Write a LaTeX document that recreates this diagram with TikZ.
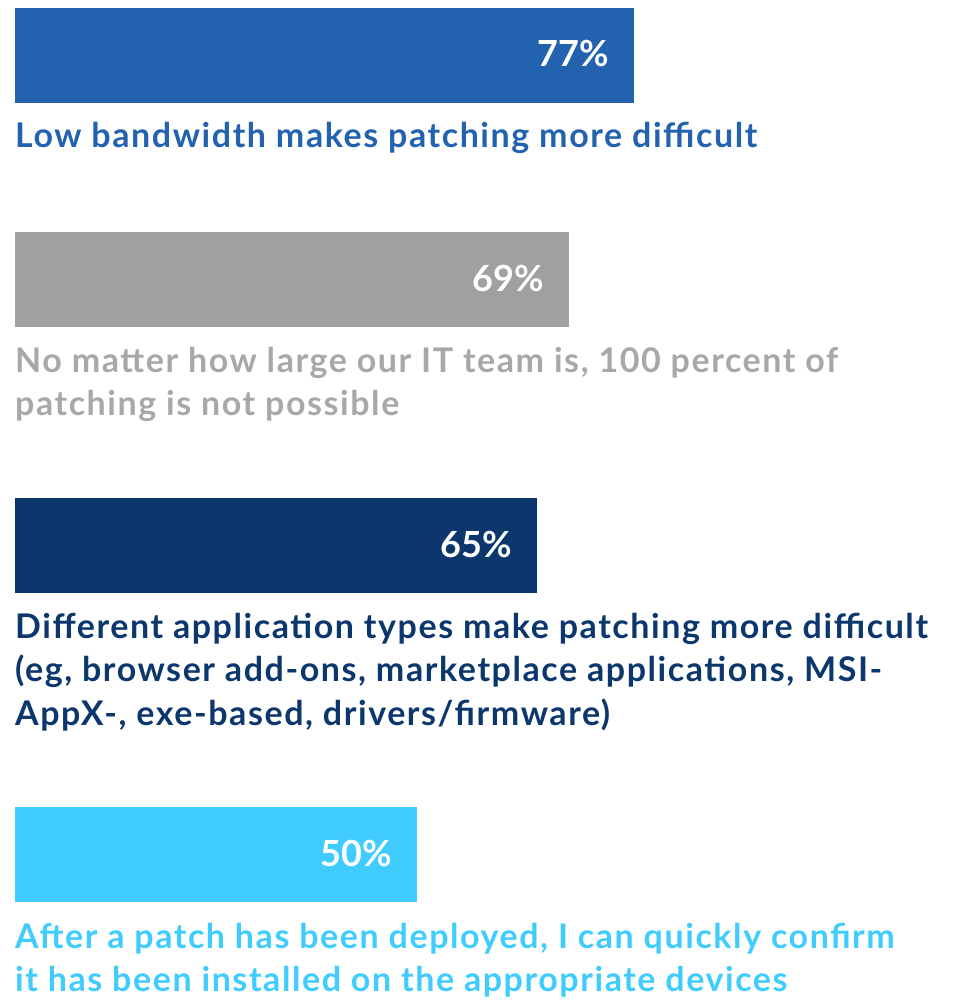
\documentclass[tikz,border=0pt]{standalone}
\usepackage{fontspec}
\setmainfont{Lato}
\newfontfamily\lblfont[LetterSpace=4.6]{Lato}
\usetikzlibrary{positioning}
\definecolor{cblue}{HTML}{2262AE}
\definecolor{cgray}{HTML}{A0A0A2}
\definecolor{cgraytext}{HTML}{A8A8AA}
\definecolor{cnavy}{HTML}{0B376D}
\definecolor{ccyan}{HTML}{40CCFF}
\tikzset{
    bar/.style={anchor=north west, inner sep=0pt, minimum height=95pt},
    pct/.style={anchor=base east, inner sep=0pt, text=white, font=\fontsize{36}{40}\selectfont\bfseries},
    lbl/.style={anchor=base west, inner sep=0pt, align=left, font=\fontsize{34}{43.5}\selectfont\lblfont\bfseries}
}
\begin{document}
\begin{tikzpicture}[x=1pt,y=-1pt]
    \useasboundingbox (0,0) rectangle (955,1000);
        \node [bar, fill=cblue, minimum width=619pt] (b1) at (15,8) {};
        \node [bar, fill=cgray, minimum width=554pt] (b2) at (15,232) {};
        \node [bar, fill=cnavy, minimum width=522pt] (b3) at (15,498) {};
        \node [bar, fill=ccyan, minimum width=402pt] (b4) at (15,807) {};

        \node [pct] (p1) at (609,67) {77\%};
        \node [pct] (p2) at (544,291) {69\%};
        \node [pct] (p3) at (512,557) {65\%};
        \node [pct] (p4) at (392,866) {50\%};

        % base anchor sits on the last line
        \node [lbl, text=cblue] (l1) at (15,148) {Low bandwidth makes patching more difficult};
        \node [lbl, text=cgraytext] (l2) at (15,415.5) {No matter how large our IT team is, 100 percent of\\patching is not possible};
        \node [lbl, text=cnavy] (l3) at (15,725) {Different application types make patching more difficult\\(eg, browser add-ons, marketplace applications, MSI-\\AppX-, exe-based, drivers/firmware)};
        \node [lbl, text=ccyan] (l4) at (15,991.5) {After a patch has been deployed, I can quickly confirm\\it has been installed on the appropriate devices};
\end{tikzpicture}
\end{document}
